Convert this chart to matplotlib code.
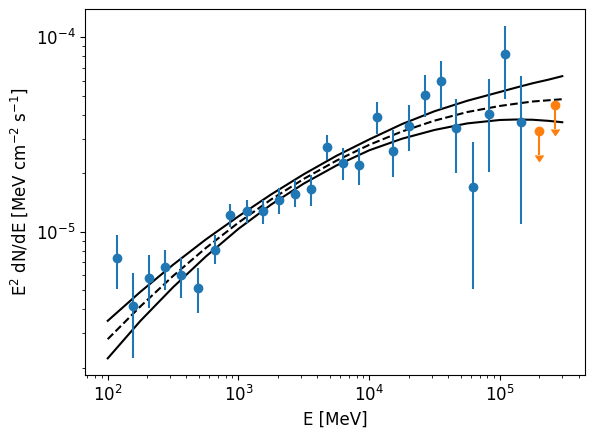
import numpy as np
import matplotlib
matplotlib.use("Agg")
import matplotlib.pyplot as plt

plt.rcParams["font.size"] = 12

# flux points (E in MeV, E^2 dN/dE in MeV cm^-2 s^-1)
energy = [117, 156, 207, 274, 366, 487, 662, 867, 1159, 1531, 2031, 2697, 3580,
          4777, 6310, 8377, 1.14e4, 1.51e4, 2.0e4, 2.65e4, 3.52e4, 4.64e4, 6.19e4,
          8.22e4, 1.09e5, 1.46e5]
flux = [7.36e-6, 4.13e-6, 5.75e-6, 6.55e-6, 5.97e-6, 5.12e-6, 8.09e-6, 1.22e-5,
        1.28e-5, 1.28e-5, 1.46e-5, 1.57e-5, 1.66e-5, 2.74e-5, 2.27e-5, 2.21e-5,
        3.89e-5, 2.61e-5, 3.50e-5, 5.06e-5, 5.97e-5, 3.40e-5, 1.69e-5, 4.04e-5,
        8.19e-5, 3.67e-5]
flux_hi = [9.66e-6, 6.10e-6, 7.55e-6, 8.09e-6, 7.36e-6, 6.47e-6, 9.57e-6, 1.39e-5,
           1.46e-5, 1.46e-5, 1.68e-5, 1.84e-5, 1.95e-5, 3.16e-5, 2.70e-5, 2.70e-5,
           4.64e-5, 3.33e-5, 4.50e-5, 6.40e-5, 7.54e-5, 4.83e-5, 2.88e-5, 6.10e-5,
           1.15e-4, 6.31e-5]
flux_lo = [5.06e-6, 2.23e-6, 4.07e-6, 5.03e-6, 4.57e-6, 3.83e-6, 6.79e-6, 1.06e-5,
           1.11e-5, 1.09e-5, 1.24e-5, 1.34e-5, 1.35e-5, 2.33e-5, 1.85e-5, 1.74e-5,
           3.20e-5, 1.91e-5, 2.60e-5, 3.91e-5, 4.30e-5, 2.00e-5, 5.08e-6, 2.02e-5,
           4.84e-5, 1.09e-5]

# upper limits
ul_energy = [1.99e5, 2.62e5]
ul_flux = [3.30e-5, 4.49e-5]

# model curve and its butterfly
model_e = [100, 178, 316, 562, 1000, 1778, 3162, 5623, 1e4, 1.78e4, 3.16e4,
           5.62e4, 1e5, 1.33e5, 1.78e5, 2.37e5, 3e5]
model_mid = [2.80e-6, 4.13e-6, 5.92e-6, 8.24e-6, 1.114e-5, 1.466e-5, 1.871e-5,
             2.323e-5, 2.80e-5, 3.28e-5, 3.73e-5, 4.13e-5, 4.44e-5, 4.56e-5,
             4.68e-5, 4.75e-5, 4.81e-5]
model_hi = [3.48e-6, 4.91e-6, 6.76e-6, 9.12e-6, 1.20e-5, 1.556e-5, 1.977e-5,
            2.46e-5, 2.985e-5, 3.58e-5, 4.17e-5, 4.72e-5, 5.24e-5, 5.52e-5,
            5.81e-5, 6.07e-5, 6.32e-5]
model_lo = [2.23e-6, 3.48e-6, 5.18e-6, 7.45e-6, 1.035e-5, 1.38e-5, 1.77e-5,
            2.193e-5, 2.624e-5, 3.01e-5, 3.34e-5, 3.61e-5, 3.76e-5, 3.78e-5,
            3.77e-5, 3.72e-5, 3.66e-5]

fig = plt.figure(figsize=(5.91, 4.41), dpi=100)
ax = fig.add_axes([85 / 591, 1 - 375 / 441, 500 / 591, 366 / 441])

ax.plot(model_e, model_mid, "k--")
ax.plot(model_e, model_hi, "k-")
ax.plot(model_e, model_lo, "k-")

f = np.array(flux)
yerr = [f - np.array(flux_lo), np.array(flux_hi) - f]
ax.errorbar(energy, flux, yerr=yerr, fmt="o", color="C0")

ul = np.array(ul_flux)
ax.errorbar(ul_energy, ul_flux, yerr=0.25 * ul, uplims=True, fmt="o", color="C1")

ax.set_xscale("log")
ax.set_yscale("log")
ax.set_xlabel("E [MeV]")
ax.set_ylabel(r"E$^{2}$ dN/dE [MeV cm$^{-2}$ s$^{-1}$]")

fig.savefig("out.png", dpi=100)
